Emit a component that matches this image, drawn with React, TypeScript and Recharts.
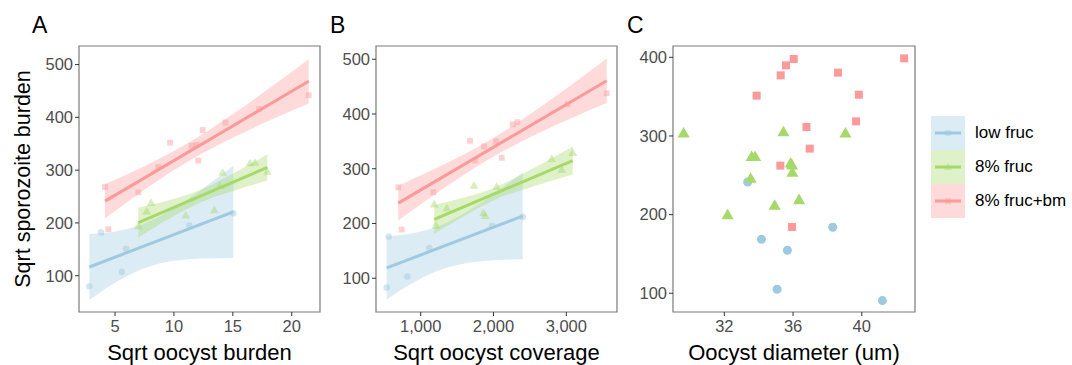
import {
  ComposedChart,
  Area,
  Line,
  Scatter,
  XAxis,
  YAxis,
  ZAxis,
  ReferenceArea,
} from "recharts";

const FONT = '"Liberation Sans", Arial, Helvetica, sans-serif';

const GROUPS = ["low fruc", "8% fruc", "8% fruc+bm"];
const COLORS = ["#9ecae1", "#a6d96a", "#fb9a99"];
const SHAPES = ["circle", "triangle", "square"] as const;

// A: sqrt oocyst burden vs sqrt sporozoite burden
const lowAx = [2.82, 3.81, 5.56, 5.93, 11.31, 15.04];
const lowAy = [80, 182, 107, 151, 195, 218];
const midAx = [6.98, 7.69, 8.06, 11.0, 13.43, 13.91, 14.14, 16.46, 16.88, 17.93];
const midAy = [193, 221, 237, 213, 223, 269, 294, 312, 313, 296];
const highAx = [4.15, 4.43, 6.98, 8.68, 9.67, 11.51, 11.93, 12.07, 12.44, 14.37, 17.22, 21.44];
const highAy = [268, 188, 258, 306, 352, 346, 348, 318, 376, 390, 416, 442];

const lowAfitX = [2.82, 15.04];
const lowAfitY = [116.5, 221];
const lowAbandX = [2.82, 5, 7.41, 10, 12.5, 15.04];
const lowAbandLo = [53.8, 86.4, 113.5, 128.2, 132.8, 133.6];
const lowAbandHi = [179.2, 183.8, 197.9, 227.6, 265.8, 308.4];
const midAfitX = [6.98, 17.93];
const midAfitY = [200.6, 305];
const midAbandX = [6.98, 9.5, 12.1, 15, 17.93];
const midAbandLo = [172.1, 206.8, 237.4, 260.7, 279.7];
const midAbandHi = [229.1, 242.4, 261.4, 293.3, 330.3];
const highAfitX = [4.15, 21.44];
const highAfitY = [241.3, 468.3];
const highAbandX = [4.15, 8, 11.24, 15, 21.44];
const highAbandLo = [209, 270.6, 317, 361.3, 426.3];
const highAbandHi = [273.6, 313.2, 351.8, 406.3, 510.3];

// B: sqrt oocyst coverage
const lowBx = [533, 560, 816, 1118, 1979, 2401];
const lowBy = [83, 176, 103, 155, 196, 212];
const midBx = [1187, 1210, 1357, 1732, 1860, 1888, 2044, 2799, 2937, 3088];
const midBy = [234, 195, 227, 268, 218, 213, 266, 317, 297, 328];
const highBx = [692, 739, 1173, 1677, 1746, 1870, 2034, 2113, 2264, 2327, 3019, 3555];
const highBy = [266, 189, 257, 351, 315, 341, 350, 320, 381, 385, 418, 438];

const lowBfitX = [533, 2401];
const lowBfitY = [118.8, 213.5];
const lowBbandX = [533, 900, 1234, 1600, 2000, 2401];
const lowBbandLo = [61.2, 92.2, 113.5, 126.9, 132.9, 134.5];
const lowBbandHi = [176.4, 182.6, 195.1, 218.9, 253.5, 292.5];
const midBfitX = [1187, 3088];
const midBfitY = [207.5, 315];
const midBbandX = [1187, 1500, 2010, 2500, 3088];
const midBbandLo = [181.1, 206.3, 243, 265.9, 289.3];
const midBbandHi = [233.9, 244.1, 265, 297.5, 340.7];
const highBfitX = [692, 3555];
const highBfitY = [237.2, 460.7];
const highBbandX = [692, 1300, 1934, 2600, 3555];
const highBbandLo = [205.3, 262.8, 317.5, 363.8, 420.2];
const highBbandHi = [269.1, 306.6, 350.9, 408.6, 501.2];

// C: oocyst diameter
const lowCx = [33.36, 34.16, 35.07, 35.67, 38.31, 41.2];
const lowCy = [241.5, 168.6, 105.1, 154.7, 183.9, 90.7];
const midCx = [29.63, 32.19, 33.53, 33.59, 33.79, 34.93, 35.44, 35.86, 35.94, 35.96, 36.35, 39.05];
const midCy = [302.5, 198.7, 244.9, 272.5, 272.5, 210.6, 304.2, 264.4, 261.9, 252.5, 217.8, 302.5];
const highCx = [33.88, 35.28, 35.59, 36.04, 35.94, 35.26, 36.78, 36.97, 38.62, 39.67, 39.83, 42.47];
const highCy = [351.3, 377.1, 389.8, 397.9, 184.3, 262.3, 311.4, 283.9, 380.5, 318.6, 352.5, 398.7];

const zip = (xs: number[], ys: number[]) => xs.map((x, i) => ({ x, y: ys[i] }));
const band = (xs: number[], lo: number[], hi: number[]) =>
  xs.map((x, i) => ({ x, band: [lo[i], hi[i]] }));

type Fit = { line: { x: number; y: number }[]; band: { x: number; band: number[] }[] };

type PanelProps = {
  left: number;
  width: number;
  yAxisWidth: number;
  xDomain: [number, number];
  yDomain: [number, number];
  xTicks: number[];
  yTicks: number[];
  xTitle: string;
  yTitle?: string;
  points: { x: number; y: number }[][];
  fits?: Fit[];
  pointOpacity: number;
  xFormat?: (v: number) => string;
};

function Panel(p: PanelProps) {
  return (
    <div style={{ position: "absolute", left: p.left, top: 0 }}>
      <ComposedChart
        width={p.width}
        height={365}
        margin={{ top: 46, right: 5, bottom: 0, left: 0 }}
      >
        <XAxis
          type="number"
          dataKey="x"
          domain={p.xDomain}
          ticks={p.xTicks}
          interval={0}
          allowDataOverflow
          height={53}
          tickSize={4}
          tickMargin={4}
          axisLine={false}
          tickLine={{ stroke: "#333333" }}
          tick={{ fill: "#4d4d4d", fontSize: 16.5, fontFamily: FONT }}
          tickFormatter={p.xFormat}
          label={{
            value: p.xTitle,
            position: "insideBottom",
            offset: 5,
            fill: "#000",
            fontSize: 22,
            fontFamily: FONT,
          }}
        />
        <YAxis
          type="number"
          dataKey="y"
          domain={p.yDomain}
          ticks={p.yTicks}
          interval={0}
          allowDataOverflow
          width={p.yAxisWidth}
          tickSize={4}
          tickMargin={2}
          axisLine={false}
          tickLine={{ stroke: "#333333" }}
          tick={{ fill: "#4d4d4d", fontSize: 16.5, fontFamily: FONT }}
          label={
            p.yTitle
              ? {
                  value: p.yTitle,
                  angle: -90,
                  position: "center",
                  dx: -17,
                  fill: "#000",
                  fontSize: 21.5,
                  fontFamily: FONT,
                }
              : undefined
          }
        />
        <ZAxis range={[34, 34]} />
        {p.points.map((pts, i) => (
          <Scatter
            key={"s" + i}
            data={pts}
            shape={SHAPES[i]}
            fill={COLORS[i]}
            fillOpacity={p.pointOpacity}
            isAnimationActive={false}
          />
        ))}
        {(p.fits ?? []).map((f, i) => (
          <Area
            key={"a" + i}
            data={f.band}
            dataKey="band"
            type="monotone"
            fill={COLORS[i]}
            fillOpacity={0.36}
            stroke="none"
            dot={false}
            activeDot={false}
            isAnimationActive={false}
          />
        ))}
        {(p.fits ?? []).map((f, i) => (
          <Line
            key={"l" + i}
            data={f.line}
            dataKey="y"
            type="linear"
            stroke={COLORS[i]}
            strokeWidth={3}
            dot={false}
            activeDot={false}
            isAnimationActive={false}
          />
        ))}
        <ReferenceArea
          x1={p.xDomain[0]}
          x2={p.xDomain[1]}
          y1={p.yDomain[0]}
          y2={p.yDomain[1]}
          fill="none"
          stroke="#7a7a7a"
          strokeWidth={1.2}
        />
      </ComposedChart>
    </div>
  );
}

function LegendKey({ i }: { i: number }) {
  const c = COLORS[i];
  return (
    <div style={{ display: "flex", alignItems: "center", height: 34 }}>
      <svg width={34} height={34}>
        <rect x={0} y={0} width={34} height={34} fill={c} fillOpacity={0.36} />
        <line x1={4} x2={30} y1={17} y2={17} stroke={c} strokeWidth={3} />
        {SHAPES[i] === "circle" && <circle cx={17} cy={17} r={3.3} fill={c} fillOpacity={0.4} />}
        {SHAPES[i] === "triangle" && (
          <polygon points="17,13 21,20 13,20" fill={c} fillOpacity={0.4} />
        )}
        {SHAPES[i] === "square" && (
          <rect x={14} y={14} width={6} height={6} fill={c} fillOpacity={0.4} />
        )}
      </svg>
      <span style={{ marginLeft: 10, fontSize: 17, color: "#000" }}>{GROUPS[i]}</span>
    </div>
  );
}

export default function App() {
  const letter = (t: string, left: number) => (
    <div
      style={{
        position: "absolute",
        left,
        top: 14,
        fontSize: 23,
        lineHeight: 1,
        color: "#000",
      }}
    >
      {t}
    </div>
  );
  return (
    <div
      style={{
        position: "fixed",
        left: 0,
        top: 0,
        width: 1072,
        height: 365,
        background: "#fff",
        fontFamily: FONT,
        overflow: "hidden",
      }}
    >
      <Panel
        left={0}
        width={325}
        yAxisWidth={79}
        xDomain={[1.94, 22.4]}
        yDomain={[31.2, 535.2]}
        xTicks={[5, 10, 15, 20]}
        yTicks={[100, 200, 300, 400, 500]}
        xTitle="Sqrt oocyst burden"
        yTitle="Sqrt sporozoite burden"
        pointOpacity={0.45}
        points={[zip(lowAx, lowAy), zip(midAx, midAy), zip(highAx, highAy)]}
        fits={[
          { line: zip(lowAfitX, lowAfitY), band: band(lowAbandX, lowAbandLo, lowAbandHi) },
          { line: zip(midAfitX, midAfitY), band: band(midAbandX, midAbandLo, midAbandHi) },
          { line: zip(highAfitX, highAfitY), band: band(highAbandX, highAbandLo, highAbandHi) },
        ]}
      />
      <Panel
        left={330}
        width={292}
        yAxisWidth={46}
        xDomain={[386, 3696]}
        yDomain={[38.3, 524.2]}
        xTicks={[1000, 2000, 3000]}
        yTicks={[100, 200, 300, 400, 500]}
        xTitle="Sqrt oocyst coverage"
        xFormat={(v) => v.toLocaleString("en-US")}
        pointOpacity={0.45}
        points={[zip(lowBx, lowBy), zip(midBx, midBy), zip(highBx, highBy)]}
        fits={[
          { line: zip(lowBfitX, lowBfitY), band: band(lowBbandX, lowBbandLo, lowBbandHi) },
          { line: zip(midBfitX, midBfitY), band: band(midBbandX, midBbandLo, midBbandHi) },
          { line: zip(highBfitX, highBfitY), band: band(highBbandX, highBbandLo, highBbandHi) },
        ]}
      />
      <Panel
        left={625}
        width={295}
        yAxisWidth={48}
        xDomain={[29.01, 43.1]}
        yDomain={[76.2, 414.4]}
        xTicks={[32, 36, 40]}
        yTicks={[100, 200, 300, 400]}
        xTitle="Oocyst diameter (um)"
        pointOpacity={1}
        points={[zip(lowCx, lowCy), zip(midCx, midCy), zip(highCx, highCy)]}
      />
      {letter("A", 32)}
      {letter("B", 330)}
      {letter("C", 627)}
      <div style={{ position: "absolute", left: 931, top: 116 }}>
        {GROUPS.map((g, i) => (
          <LegendKey key={g} i={i} />
        ))}
      </div>
    </div>
  );
}
